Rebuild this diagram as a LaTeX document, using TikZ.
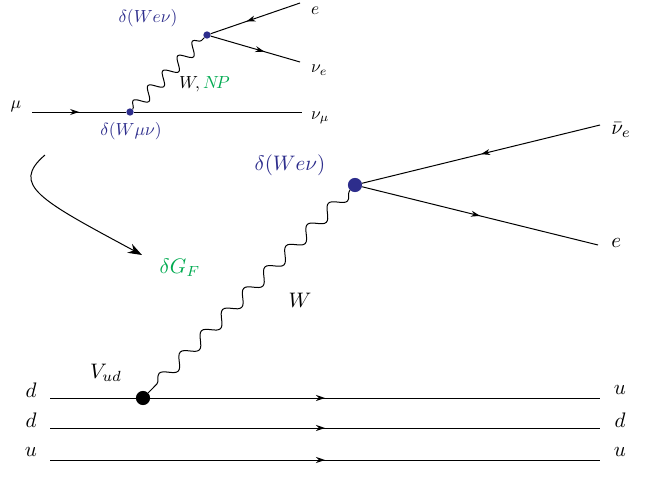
\documentclass[tikz,border=0pt]{standalone}
\usetikzlibrary{decorations.pathmorphing,decorations.markings,arrows.meta}
\definecolor{vblue}{RGB}{45,45,140}
\definecolor{npgreen}{RGB}{0,170,80}
\tikzset{
 fermion/.style={line width=1pt,postaction={decorate},decoration={markings,mark=at position #1 with {\arrow{Stealth[length=9pt,width=6pt]}}}},
 fermion/.default=0.5,
 boson/.style={line width=1pt,decorate,decoration={snake,amplitude=6pt,segment length=#1}},
 boson/.default=30pt,
 lbl/.style={scale=2.1},
 slbl/.style={scale=1.75},
}
\begin{document}
\begin{tikzpicture}[x=1pt,y=-1pt]
\useasboundingbox (0,0) rectangle (657,485);
% small diagram
\coordinate (mu0) at (32,112);
\coordinate (numu) at (302,112);
\node[fill=vblue,circle,inner sep=2.6pt] (v1) at (130,112) {};
\node[fill=vblue,circle,inner sep=2.6pt] (v2) at (207,35) {};
\coordinate (e1) at (300,3);
\coordinate (ne1) at (300,62);
\draw[fermion=0.5] (mu0) -- (v1);
\draw[line width=1pt] (v1) -- (numu);
\draw[boson=21pt] (v1) -- (v2);
\draw[fermion=0.6] (e1) -- (v2);
\draw[fermion=0.6] (v2) -- (ne1);
\node[slbl] (lmu) at (16,106) {$\mu$};
\node[slbl,anchor=west] (lnumu) at (305,118) {$\nu_\mu$};
\node[slbl,text=vblue] (lv1) at (131,131) {$\delta(W\mu\nu)$};
\node[slbl,text=vblue] (lv2) at (148,18) {$\delta(We\nu)$};
\node[slbl,anchor=west] (le1) at (305,11) {$e$};
\node[slbl,anchor=west] (lne1) at (305,70) {$\nu_e$};
\node[slbl,anchor=west] (lWNP) at (173,84) {$W,\,$\textcolor{npgreen}{$N\!P$}};
% curved arrow
\coordinate (ca0) at (45,155);
\coordinate (ca1) at (142,255);
\draw[line width=1pt,-{Stealth[length=14pt,width=10pt]}] (ca0) .. controls (10,185) and (40,200) .. (ca1);
\node[lbl,text=npgreen] (dgf) at (180,268) {$\delta G_F$};
% big diagram
\node[fill=vblue,circle,inner sep=5pt] (V) at (355,185) {};
\node[fill=black,circle,inner sep=5pt] (U) at (143,398) {};
\coordinate (nb) at (600,125);
\coordinate (e2) at (598,245);
\draw[fermion=0.5] (nb) -- (V);
\draw[fermion=0.5] (V) -- (e2);
\draw[boson] (V) -- (U);
\node[lbl,text=vblue] at (290,165) {$\delta(We\nu)$};
\node[lbl,anchor=west] at (604,130) {$\bar\nu_e$};
\node[lbl,anchor=west] at (604,243) {$e$};
\node[lbl] at (300,300) {$W$};
\node[lbl] at (106,373) {$V_{ud}$};
% quarks
\foreach \y/\l/\r [count=\i] in {398/d/u,428/d/d,460/u/u}{
 \coordinate (qa\i) at (50,\y);
 \coordinate (qb\i) at (600,\y);
 \draw[fermion=0.5] (qa\i) -- (qb\i);
 \node[lbl] at (31,\y-8) {$\l$};
 \node[lbl] at (620,\y-8) {$\r$};
}
\end{tikzpicture}
\end{document}
